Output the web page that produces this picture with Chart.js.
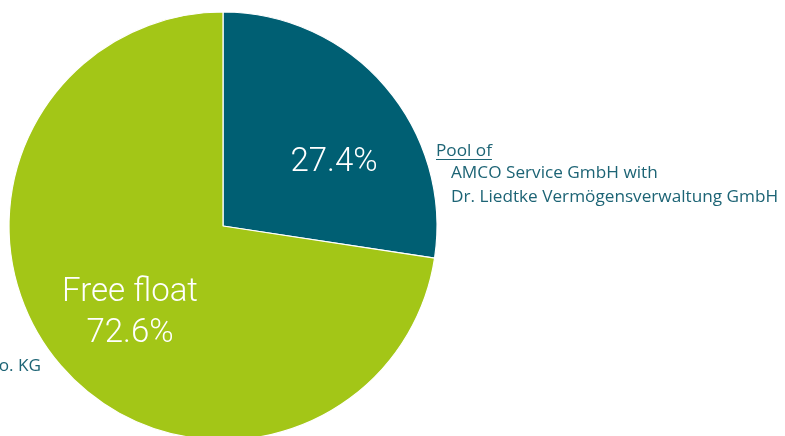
<!DOCTYPE html>
<html>
<head>
<meta charset="utf-8">
<script src="https://cdn.jsdelivr.net/npm/chart.js@4"></script>
<style>
  html, body { margin: 0; padding: 0; background: #ffffff; overflow: hidden; width: 785px; height: 436px; }
  #wrap { position: absolute; left: 0; top: 0; width: 785px; height: 452px; }
</style>
</head>
<body>
<div id="wrap"><canvas id="c" width="785" height="452"></canvas></div>
<script>
const categories = ['Pool of AMCO Service GmbH with Dr. Liedtke Vermögensverwaltung GmbH', 'Free float'];
const shares = [27.4, 72.6];
const sliceColors = ['#005f73', '#a3c617'];
const poolLabelLines = ['Pool of', 'AMCO Service GmbH with', 'Dr. Liedtke Vermögensverwaltung GmbH'];
const sideLabel = 'Co. KG';
const freeFloatTitle = 'Free float';

const labelPlugin = {
  id: 'labels',
  afterDatasetsDraw(chart) {
    const ctx = chart.ctx;
    const meta = chart.getDatasetMeta(0);
    const a0 = meta.data[0];
    const cx = a0.x, cy = a0.y;
    ctx.save();
    // inner labels
    ctx.fillStyle = '#ffffff';
    ctx.textAlign = 'center';
    ctx.textBaseline = 'alphabetic';
    ctx.font = '300 33px Roboto';
    ctx.fillText(shares[0].toFixed(1) + '%', cx + 111, cy - 55);
    ctx.fillText(freeFloatTitle, cx - 93, cy + 75);
    ctx.fillText(shares[1].toFixed(1) + '%', cx - 93, cy + 116);
    // outside labels
    ctx.fillStyle = '#1d6475';
    ctx.strokeStyle = '#1d6475';
    ctx.font = '17.2px "Open Sans"';
    ctx.textAlign = 'left';
    const lx = cx + 213;
    ctx.fillText(poolLabelLines[0], lx, cy - 70);
    const w = ctx.measureText(poolLabelLines[0]).width;
    ctx.lineWidth = 1;
    ctx.beginPath();
    ctx.moveTo(lx, cy - 66.5);
    ctx.lineTo(lx + w, cy - 66.5);
    ctx.stroke();
    ctx.fillText(poolLabelLines[1], lx + 15, cy - 48);
    ctx.fillText(poolLabelLines[2], lx + 15, cy - 24);
    ctx.textAlign = 'right';
    ctx.fillText(sideLabel, cx - 182, cy + 145);
    ctx.restore();
  }
};

new Chart(document.getElementById('c'), {
  type: 'pie',
  data: {
    labels: categories,
    datasets: [{
      data: shares,
      backgroundColor: sliceColors,
      borderColor: '#ffffff',
      borderWidth: 1.2,
      hoverOffset: 0
    }]
  },
  options: {
    responsive: false,
    animation: false,
    radius: 214,
    layout: { padding: { left: 9, right: 348, top: 12, bottom: 12 } },
    plugins: { legend: { display: false }, tooltip: { enabled: false } }
  },
  plugins: [labelPlugin]
});
</script>
</body>
</html>
